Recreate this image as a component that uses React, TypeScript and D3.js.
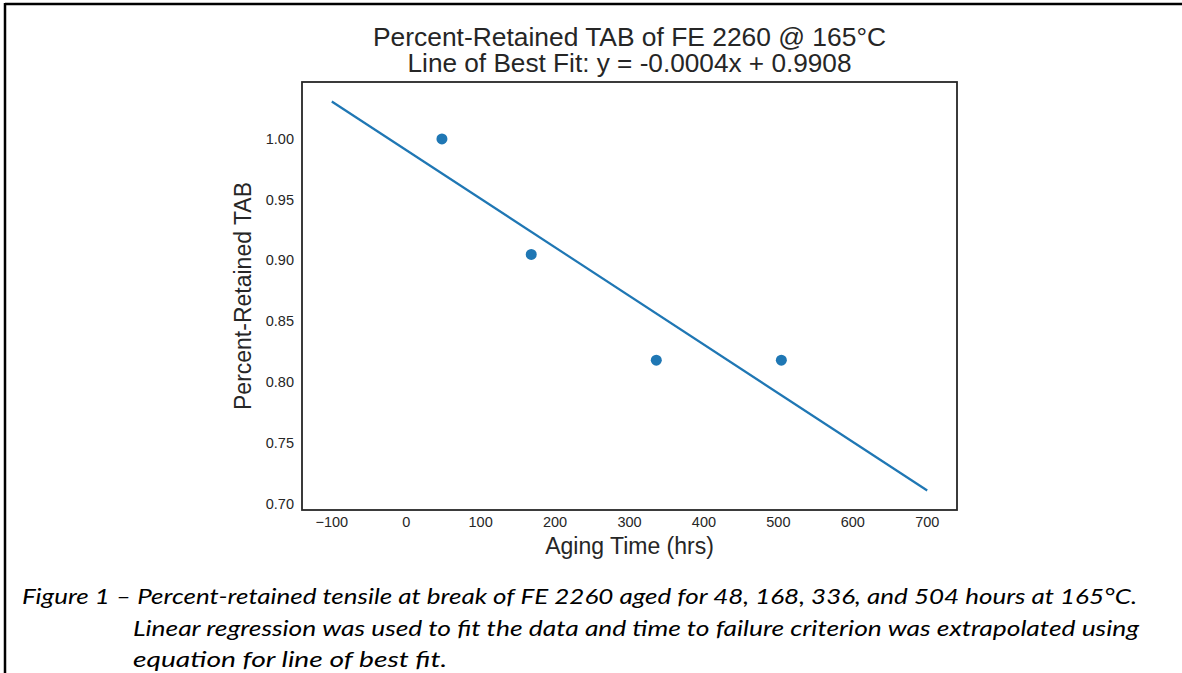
import React from "react";
import * as d3 from "d3";

const agingHours = [48, 168, 336, 504];
const retainedTAB = [1.0, 0.905, 0.818, 0.818];
const fitSlope = -0.0004;
const fitIntercept = 0.9908;
const fitRange = [-100, 700];
const xTicks = [-100, 0, 100, 200, 300, 400, 500, 600, 700];
const yTicks = [0.7, 0.75, 0.8, 0.85, 0.9, 0.95, 1.0];
const titleLines = ["Percent-Retained TAB of FE 2260 @ 165°C", "Line of Best Fit: y = -0.0004x + 0.9908"];
const titleWidths = [513, 444];
const captionLines = [
  "Figure 1 – Percent-retained tensile at break of FE 2260 aged for 48, 168, 336, and 504 hours at 165°C.",
  "Linear regression was used to fit the data and time to failure criterion was extrapolated using",
  "equation for line of best fit.",
];

const W = 1182, H = 673;
const plot = { left: 302, top: 82, right: 957, bottom: 510 };
const ink = "#262626";
const blue = "#1f77b4";
const font = "'Liberation Sans', Arial, sans-serif";

export default function App() {
  const x = d3.scaleLinear().domain([-140, 740]).range([plot.left, plot.right]);
  const y = d3.scaleLinear().domain([0.6948, 1.0468]).range([plot.bottom, plot.top]);
  const line = d3.line<number>().x((d) => x(d)).y((d) => y(fitSlope * d + fitIntercept));
  const cx = (plot.left + plot.right) / 2;
  const cy = (plot.top + plot.bottom) / 2;
  return (
    <svg width={W} height={H} style={{ position: "absolute", left: 0, top: 0, background: "#fff" }}>
      <rect x={0} y={0} width={W} height={H} fill="#fff" />
      <line x1={5} y1={4} x2={W} y2={4} stroke="#000" strokeWidth={2.5} />
      <line x1={5} y1={3} x2={5} y2={H} stroke="#000" strokeWidth={2.5} />
      {titleLines.map((t, i) => (
        <text key={i} x={cx} y={45.5 + i * 26.5} textAnchor="middle" fontFamily={font} fontSize={25} fill={ink}
          textLength={titleWidths[i]} lengthAdjust="spacingAndGlyphs">{t}</text>
      ))}
      <path d={line(fitRange) || ""} fill="none" stroke={blue} strokeWidth={2.2} />
      {agingHours.map((h, i) => (
        <circle key={i} cx={x(h)} cy={y(retainedTAB[i])} r={5.5} fill={blue} />
      ))}
      <rect x={plot.left} y={plot.top} width={plot.right - plot.left} height={plot.bottom - plot.top} fill="none" stroke={ink} strokeWidth={1.8} />
      {yTicks.map((t) => (
        <text key={t} x={plot.left - 8} y={y(t) + 5} textAnchor="end" fontFamily={font} fontSize={14.5} fill={ink}>{t.toFixed(2)}</text>
      ))}
      {xTicks.map((t) => (
        <text key={t} x={x(t)} y={527} textAnchor="middle" fontFamily={font} fontSize={14.5} fill={ink}>{t < 0 ? "\u2212" + Math.abs(t) : String(t)}</text>
      ))}
      <text x={cx} y={554} textAnchor="middle" fontFamily={font} fontSize={23} fill={ink}>Aging Time (hrs)</text>
      <text transform={`translate(251,${cy}) rotate(-90)`} textAnchor="middle" fontFamily={font} fontSize={23} fill={ink}>Percent-Retained TAB</text>
      <text x={22} y={604} fontFamily="Lato, sans-serif" fontStyle="italic" fontSize={22} fill="#000" textLength={1115} lengthAdjust="spacingAndGlyphs">{captionLines[0]}</text>
      <text x={133} y={636} fontFamily="Lato, sans-serif" fontStyle="italic" fontSize={22} fill="#000" textLength={1006} lengthAdjust="spacingAndGlyphs">{captionLines[1]}</text>
      <text x={133} y={667} fontFamily="Lato, sans-serif" fontStyle="italic" fontSize={22} fill="#000" textLength={314} lengthAdjust="spacingAndGlyphs">{captionLines[2]}</text>
    </svg>
  );
}
